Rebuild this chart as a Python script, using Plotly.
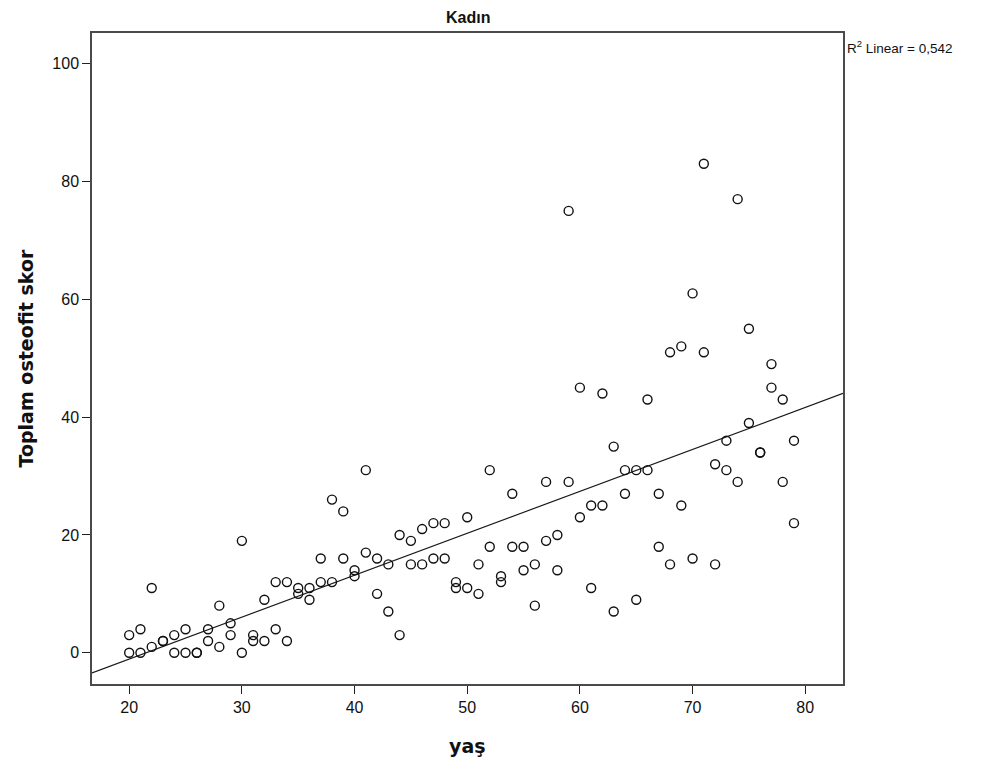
import numpy as np
import plotly.graph_objects as go

# Women: age (yaş) and total osteophyte score, two subjects per age 20–79
age = [
    20, 20, 21, 21, 22, 22, 23, 23, 24, 24, 25, 25, 26, 26, 27, 27, 28, 28, 29, 29,
    30, 30, 31, 31, 32, 32, 33, 33, 34, 34, 35, 35, 36, 36, 37, 37, 38, 38, 39, 39,
    40, 40, 41, 41, 42, 42, 43, 43, 44, 44, 45, 45, 46, 46, 47, 47, 48, 48, 49, 49,
    50, 50, 51, 51, 52, 52, 53, 53, 54, 54, 55, 55, 56, 56, 57, 57, 58, 58, 59, 59,
    60, 60, 61, 61, 62, 62, 63, 63, 64, 64, 65, 65, 66, 66, 67, 67, 68, 68, 69, 69,
    70, 70, 71, 71, 72, 72, 73, 73, 74, 74, 75, 75, 76, 76, 77, 77, 78, 78, 79, 79,
]
score = [
    3, 0, 4, 0, 11, 1, 2, 2, 3, 0, 4, 0, 0, 0, 4, 2, 8, 1, 5, 3,
    19, 0, 3, 2, 9, 2, 12, 4, 12, 2, 11, 10, 11, 9, 16, 12, 26, 12, 24, 16,
    14, 13, 31, 17, 16, 10, 15, 7, 20, 3, 19, 15, 21, 15, 22, 16, 22, 16, 12, 11,
    23, 11, 15, 10, 31, 18, 13, 12, 27, 18, 18, 14, 15, 8, 29, 19, 20, 14, 75, 29,
    45, 23, 25, 11, 44, 25, 35, 7, 31, 27, 31, 9, 43, 31, 27, 18, 51, 15, 52, 25,
    61, 16, 83, 51, 32, 15, 36, 31, 77, 29, 55, 39, 34, 34, 49, 45, 43, 29, 36, 22,
]

x_ticks = [20, 30, 40, 50, 60, 70, 80]
y_ticks = [0, 20, 40, 60, 80, 100]
x_range = [16.7, 83.35]
y_range = [-5.3, 105.2]

chart_title = "Kadın"
x_title = "yaş"
y_title = "Toplam osteofit skor"
r2_text = "R<sup>2</sup> Linear = 0,542"

# Least-squares fit line across the full axis width
slope, intercept = np.polyfit(age, score, 1)
fit_x = np.array(x_range)
fit_y = intercept + slope * fit_x

fig = go.Figure()
fig.add_trace(go.Scatter(
    x=fit_x, y=fit_y, mode="lines",
    line=dict(color="#1a1a1a", width=1.2),
    hoverinfo="skip", showlegend=False,
))
fig.add_trace(go.Scatter(
    x=age, y=score, mode="markers",
    marker=dict(symbol="circle-open", size=9, color="#111111",
                line=dict(width=1.4, color="#111111")),
    showlegend=False,
))

sans = "Liberation Sans, Arial, sans-serif"
bold_face = "DejaVu Sans, Verdana, sans-serif"
tick_font = dict(family=sans, size=16, color="#111111")
axis_common = dict(
    showgrid=False, zeroline=False, showline=True, mirror=True,
    linecolor="#4a4a4a", linewidth=1.5,
    ticks="outside", ticklen=8, tickwidth=1.3, tickcolor="#222222",
    tickfont=tick_font,
)

fig.update_xaxes(range=x_range, tickvals=x_ticks,
                 ticktext=[str(v) for v in x_ticks], **axis_common)
fig.update_yaxes(range=y_range, tickvals=y_ticks,
                 ticktext=[str(v) for v in y_ticks], **axis_common)

fig.update_layout(
    width=987, height=764,
    paper_bgcolor="white", plot_bgcolor="white",
    margin=dict(l=92, r=144, t=33, b=80),
    annotations=[
        dict(text="<b>" + chart_title + "</b>", xref="paper", yref="paper",
             x=0.5, y=1, yshift=16, xanchor="center", yanchor="middle",
             showarrow=False,
             font=dict(family=sans, size=16, color="#111111")),
        dict(text="<b>" + x_title + "</b>", xref="paper", yref="paper",
             x=0.5, y=0, yshift=-62, xanchor="center", yanchor="middle",
             showarrow=False,
             font=dict(family=bold_face, size=19, color="#111111")),
        dict(text="<b>" + y_title + "</b>", xref="paper", yref="paper",
             x=0, y=0.5, xshift=-67, xanchor="center", yanchor="middle",
             textangle=-90, showarrow=False,
             font=dict(family=bold_face, size=19, color="#111111")),
        dict(text=r2_text, xref="paper", yref="paper",
             x=1, y=1, xshift=2, yshift=-14, xanchor="left", yanchor="middle",
             showarrow=False,
             font=dict(family=sans, size=13.5, color="#111111")),
    ],
)

fig.write_html("out.html")
